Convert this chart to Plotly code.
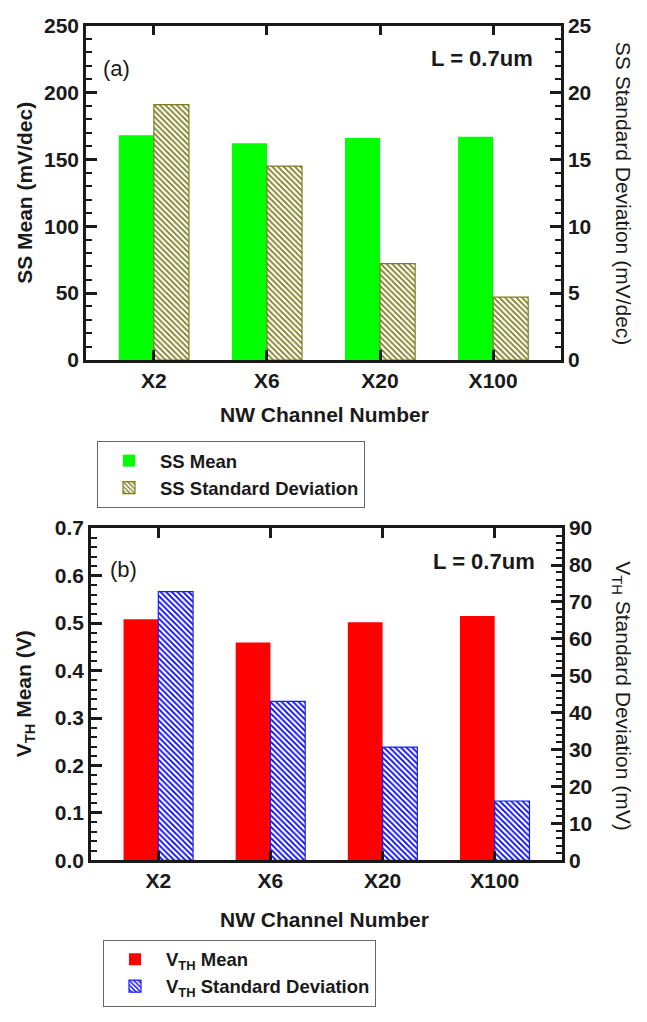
import plotly.graph_objects as go

# ---------------- data ----------------
categories = ["X2", "X6", "X20", "X100"]
ss_mean = [168, 162, 166, 167]            # mV/dec (left axis)
ss_std = [19.1, 14.5, 7.2, 4.7]           # mV/dec (right axis)
vth_mean = [0.508, 0.459, 0.502, 0.515]   # V (left axis)
vth_std = [72.8, 43.1, 30.7, 16.1]        # mV (right axis)

W, H = 647, 1022
FONT = "Liberation Sans"


def px(x):
    return x / W


def py(y):
    return 1 - y / H


fig = go.Figure()

fig.add_trace(go.Bar(
    x=categories, y=ss_mean, name="SS Mean", xaxis="x", yaxis="y",
    width=0.31, offset=-0.31, marker=dict(color="#00ff00", line=dict(width=0)),
    legend="legend"))
fig.add_trace(go.Bar(
    x=categories, y=ss_std, name="SS Standard Deviation", xaxis="x", yaxis="y2",
    width=0.31, offset=0.0,
    marker=dict(color="white", line=dict(color="#7d7d1e", width=1.2),
                pattern=dict(shape="\\", fgcolor="#7d7d1e", bgcolor="white",
                             size=4, solidity=0.45, fillmode="replace")),
    legend="legend"))
fig.add_trace(go.Bar(
    x=categories, y=vth_mean, name="V<sub>TH</sub> Mean", xaxis="x2", yaxis="y3",
    width=0.31, offset=-0.31, marker=dict(color="#ff0000", line=dict(width=0)),
    legend="legend2"))
fig.add_trace(go.Bar(
    x=categories, y=vth_std, name="V<sub>TH</sub> Standard Deviation", xaxis="x2", yaxis="y4",
    width=0.31, offset=0.0,
    marker=dict(color="white", line=dict(color="#1a1aff", width=1.2),
                pattern=dict(shape="\\", fgcolor="#0000ff", bgcolor="white",
                             size=4, solidity=0.45, fillmode="replace")),
    legend="legend2"))

tickfont = dict(family=FONT, size=21, color="#1a1a1a", weight="bold")
LW = 2.5


def xax(domain, anchor):
    return dict(domain=domain, anchor=anchor, type="category", range=[-0.6, 3.6],
                showline=True, linecolor="#1a1a1a", linewidth=LW, mirror="ticks",
                ticks="inside", ticklen=10, tickwidth=2.5, tickcolor="#1a1a1a",
                tickfont=tickfont, showgrid=False, zeroline=False)


def yax(domain, anchor, rng, dtick, minor, side="left", overlaying=None, fmt=None):
    d = dict(domain=domain, anchor=anchor, range=rng, dtick=dtick, tick0=0,
             showline=True, linecolor="#1a1a1a", linewidth=LW, side=side,
             ticks="inside", ticklen=11, tickwidth=2.5, tickcolor="#1a1a1a",
             tickfont=tickfont, showgrid=False, zeroline=False,
             minor=dict(dtick=minor, ticks="inside", ticklen=6, tickwidth=2,
                        tickcolor="#1a1a1a", showgrid=False))
    if overlaying:
        d["overlaying"] = overlaying
    if fmt:
        d["tickformat"] = fmt
    return d


top_dom = [py(356), py(14)]
bot_dom = [py(868), py(528)]

legfont = dict(family=FONT, size=18.5, color="#1a1a1a", weight="bold")

fig.update_layout(
    width=W, height=H, margin=dict(l=0, r=0, t=0, b=0),
    paper_bgcolor="white", plot_bgcolor="white",
    barmode="overlay", showlegend=True,
    xaxis=xax([px(86), px(561)], "y"),
    yaxis=yax(top_dom, "x", [0, 250], 50, 10),
    yaxis2=yax(top_dom, "x", [0, 25], 5, 1, side="right", overlaying="y"),
    xaxis2=xax([px(91), px(562)], "y3"),
    yaxis3=yax(bot_dom, "x2", [0, 0.7], 0.1, 0.02, fmt=".1f"),
    yaxis4=yax(bot_dom, "x2", [0, 90], 10, 2, side="right", overlaying="y3"),
    legend=dict(x=px(97), y=py(439), xanchor="left", yanchor="top",
                bgcolor="white", bordercolor="#666", borderwidth=1,
                font=legfont, itemwidth=52, tracegroupgap=0),
    legend2=dict(x=px(103), y=py(949), xanchor="left", yanchor="top",
                 bgcolor="white", bordercolor="#666", borderwidth=1,
                 font=legfont, itemwidth=52, tracegroupgap=0),
)

bold = dict(family=FONT, size=21, color="#1a1a1a", weight="bold")
reg = dict(family=FONT, size=21, color="#1a1a1a")
ann = [
    dict(text="SS Mean (mV/dec)", x=px(25), y=py(185), textangle=-90, font=bold),
    dict(text="SS Standard Deviation (mV/dec)", x=px(623), y=py(185), textangle=90, font=reg),
    dict(text="NW Channel Number", x=px(324), y=py(412), font=bold),
    dict(text="(a)", x=px(116), y=py(58), font=dict(family=FONT, size=22, color="#1a1a1a")),
    dict(text="L = 0.7um", x=px(482), y=py(48), font=dict(family=FONT, size=22, color="#1a1a1a", weight="bold")),
    dict(text="V<sub>TH</sub> Mean (V)", x=px(25), y=py(698), textangle=-90, font=bold),
    dict(text="V<sub>TH</sub> Standard Deviation (mV)", x=px(622), y=py(699), textangle=90, font=reg),
    dict(text="NW Channel Number", x=px(324), y=py(928), font=bold),
    dict(text="(b)", x=px(124), y=py(570), font=dict(family=FONT, size=22, color="#1a1a1a")),
    dict(text="L = 0.7um", x=px(484), y=py(562), font=dict(family=FONT, size=22, color="#1a1a1a", weight="bold")),
]
for a in ann:
    a.update(xref="paper", yref="paper", showarrow=False, xanchor="center", yanchor="middle")
fig.update_layout(annotations=ann)

fig.write_html("out.html")
